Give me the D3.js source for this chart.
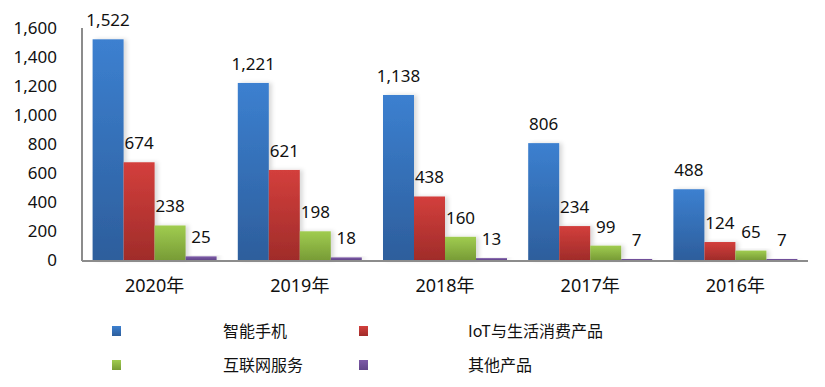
<!DOCTYPE html>
<html>
<head>
<meta charset="utf-8">
<script src="https://cdn.jsdelivr.net/npm/d3@7"></script>
<style>
  body { margin: 0; background: #fff; }
  text { font-family: "Noto Sans", "Noto Sans CJK SC", sans-serif; fill: #111; }
</style>
</head>
<body>
<div id="chart"></div>
<script>
var years = ["2020年", "2019年", "2018年", "2017年", "2016年"];
var seriesNames = ["智能手机", "IoT与生活消费产品", "互联网服务", "其他产品"];
var smartphone = [1522, 1221, 1138, 806, 488];
var iot = [674, 621, 438, 234, 124];
var internet = [238, 198, 160, 99, 65];
var other = [25, 18, 13, 7, 7];
var yTicks = [0, 200, 400, 600, 800, 1000, 1200, 1400, 1600];

var colors = [
  ["#3c80d0", "#2d5e9c"],
  ["#d33f3c", "#a02c2a"],
  ["#a0cc50", "#789c36"],
  ["#7d5aa8", "#62468a"]
];

var width = 825, height = 387;
var svg = d3.select("#chart").append("svg")
  .attr("width", width)
  .attr("height", height);

var defs = svg.append("defs");
colors.forEach(function(c, i) {
  var g = defs.append("linearGradient")
    .attr("id", "grad" + i)
    .attr("x1", 0).attr("y1", 0).attr("x2", 0).attr("y2", 1);
  g.append("stop").attr("offset", "0%").attr("stop-color", c[0]);
  g.append("stop").attr("offset", "100%").attr("stop-color", c[1]);
});
var shadow = defs.append("filter").attr("id", "shadow")
  .attr("x", "-20%").attr("y", "-20%").attr("width", "160%").attr("height", "140%");
shadow.append("feDropShadow")
  .attr("dx", 3).attr("dy", 0).attr("stdDeviation", 2)
  .attr("flood-color", "#000").attr("flood-opacity", 0.15);

var plotLeft = 82, plotRight = 808, plotTop = 28, plotBottom = 260;

var x = d3.scaleBand().domain(years).range([plotLeft, plotRight]).paddingInner(0.146).paddingOuter(0.073);
var x1 = d3.scaleBand().domain(d3.range(4)).range([0, x.bandwidth()]);
var y = d3.scaleLinear().domain([0, 1600]).range([plotBottom, plotTop]);

var data = [smartphone, iot, internet, other];

// y tick labels
var yAxis = svg.append("g")
  .attr("transform", "translate(" + plotLeft + ",0)")
  .call(d3.axisLeft(y).tickValues(yTicks).tickSize(0).tickPadding(25).tickFormat(d3.format(",")));
yAxis.select(".domain").remove();
yAxis.selectAll("text")
  .style("font-size", "17px")
  .style("font-family", "Noto Sans, sans-serif")
  .attr("fill", "#111");

// bars
data.forEach(function(vals, si) {
  var g = svg.append("g");
  g.selectAll("rect")
    .data(vals)
    .enter()
    .append("rect")
    .attr("x", function(d, i) { return x(years[i]) + x1(si); })
    .attr("y", function(d) { return y(d); })
    .attr("width", x1.bandwidth())
    .attr("height", function(d) { return plotBottom - y(d); })
    .attr("fill", "url(#grad" + si + ")")
    .attr("filter", "url(#shadow)");

  g.selectAll("text")
    .data(vals)
    .enter()
    .append("text")
    .attr("x", function(d, i) { return x(years[i]) + x1(si) + x1.bandwidth() / 2; })
    .attr("y", function(d) { return y(d) - 13; })
    .attr("text-anchor", "middle")
    .style("font-size", "17px")
    .text(function(d) { return d3.format(",")(d); });
});

// axis lines
svg.append("line")
  .attr("x1", plotLeft).attr("y1", plotTop).attr("x2", plotLeft).attr("y2", plotBottom + 1)
  .attr("stroke", "#8c8c8c").attr("stroke-width", 2);
svg.append("line")
  .attr("x1", plotLeft).attr("y1", plotBottom + 1).attr("x2", plotRight).attr("y2", plotBottom + 1)
  .attr("stroke", "#8c8c8c").attr("stroke-width", 2);

// category labels
var xAxis = svg.append("g")
  .attr("transform", "translate(0," + plotBottom + ")")
  .call(d3.axisBottom(x).tickSize(0).tickPadding(19));
xAxis.select(".domain").remove();
xAxis.selectAll("text")
  .style("font-size", "18px")
  .style("font-family", "Noto Sans, Noto Sans CJK SC, sans-serif")
  .attr("fill", "#111");

// legend
var legendPos = [[112, 331], [359, 331], [112, 365], [359, 365]];
var legendText = [223, 468, 223, 468];
var legend = svg.append("g");
seriesNames.forEach(function(name, i) {
  legend.append("rect")
    .attr("x", legendPos[i][0])
    .attr("y", legendPos[i][1] - 5)
    .attr("width", 9).attr("height", 10)
    .attr("fill", "url(#grad" + i + ")");
  legend.append("text")
    .attr("x", legendText[i])
    .attr("y", legendPos[i][1])
    .attr("dy", "0.35em")
    .style("font-size", "16px")
    .style("font-family", "Noto Sans CJK SC, sans-serif")
    .attr("fill", "#333")
    .text(name);
});
</script>
</body>
</html>
